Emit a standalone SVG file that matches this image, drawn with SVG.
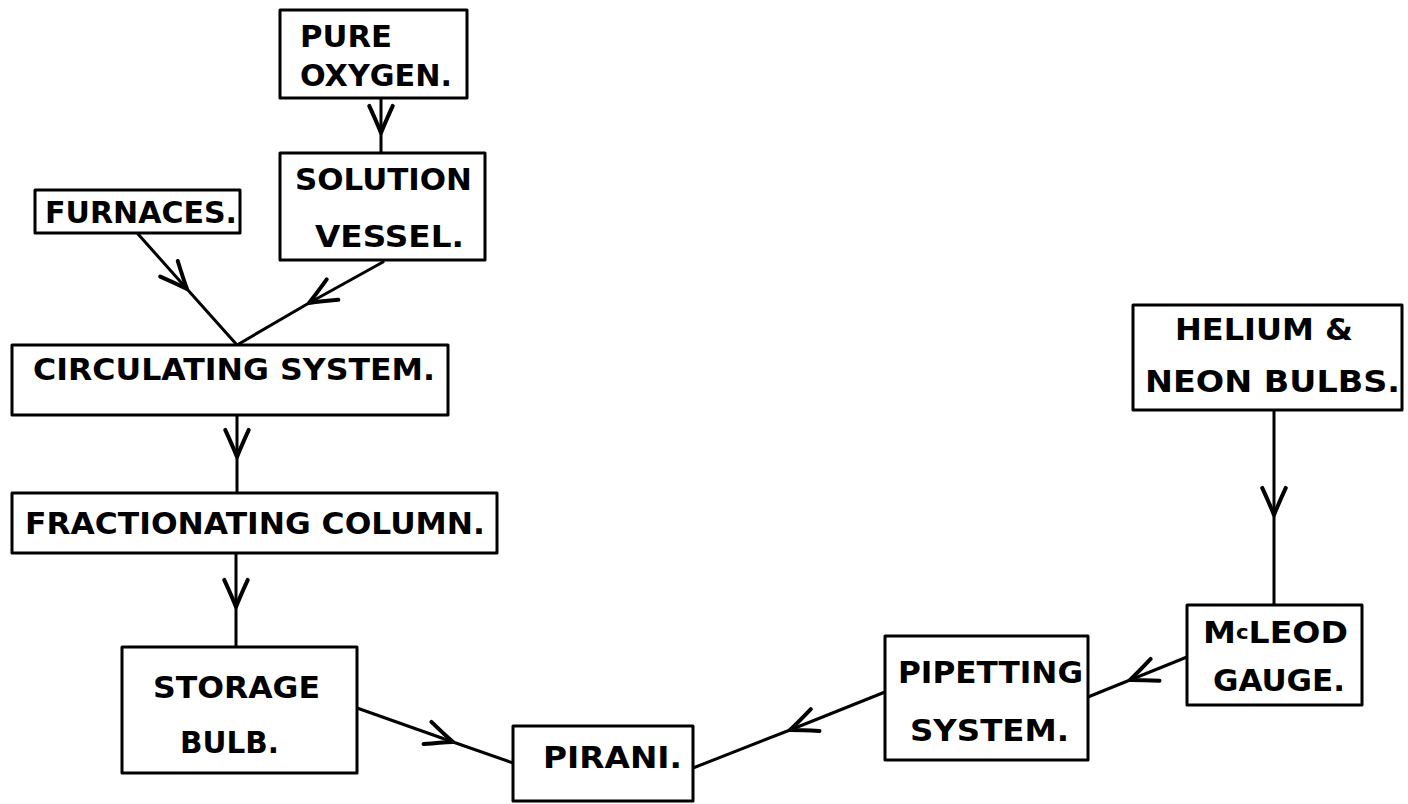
<svg xmlns="http://www.w3.org/2000/svg" width="1408" height="804" viewBox="0 0 1408 804">
<style>
  .box { fill: #fff; stroke: #000; stroke-width: 3; stroke-linejoin: round; }
  .lbl { font-family: "DejaVu Sans", "Liberation Sans", sans-serif; font-weight: bold; font-size: 31px; fill: #000; }
  .con { fill: none; stroke: #000; stroke-width: 3; stroke-linecap: round; stroke-linejoin: round; marker-mid: url(#chev); }
</style>
<defs>
  <marker id="chev" markerUnits="userSpaceOnUse" markerWidth="40" markerHeight="40" viewBox="-30 -15 34 30" refX="0" refY="0" orient="auto" overflow="visible">
    <path d="M -23 -10 Q -10 -4 0 0 Q -10 4 -23 10" fill="none" stroke="#000" stroke-width="3.4" stroke-linecap="round" stroke-linejoin="round"/>
  </marker>
</defs>
<rect width="1408" height="804" fill="#fff"/>

<g id="connectors">
  <path class="con" d="M 381 98 L 381 133 L 381 153"/>
  <path class="con" d="M 138 234 L 187 289 L 237 345"/>
  <path class="con" d="M 383 262 L 309 303 L 237 345"/>
  <path class="con" d="M 237 415 L 237 457 L 237 493"/>
  <path class="con" d="M 236 553 L 236 607 L 236 647"/>
  <path class="con" d="M 357 708 L 453 742 L 513 763"/>
  <path class="con" d="M 885 692 L 790 730 L 693 768"/>
  <path class="con" d="M 1187 657 L 1130 680 L 1088 697"/>
  <path class="con" d="M 1274 410 L 1274 515 L 1274 605"/>
</g>

<g id="pure-oxygen">
  <rect class="box" x="280" y="10" width="187" height="88"/>
  <text class="lbl" x="300" y="47" textLength="92" lengthAdjust="spacingAndGlyphs">PURE</text>
  <text class="lbl" x="300" y="86" textLength="152" lengthAdjust="spacingAndGlyphs">OXYGEN.</text>
</g>
<g id="solution-vessel">
  <rect class="box" x="280" y="153" width="205" height="107"/>
  <text class="lbl" x="295" y="190" textLength="177" lengthAdjust="spacingAndGlyphs">SOLUTION</text>
  <text class="lbl" x="315" y="247" textLength="149" lengthAdjust="spacingAndGlyphs">VESSEL.</text>
</g>
<g id="furnaces">
  <rect class="box" x="35" y="190" width="205" height="43"/>
  <text class="lbl" x="45" y="223" textLength="192" lengthAdjust="spacingAndGlyphs">FURNACES.</text>
</g>
<g id="circulating-system">
  <rect class="box" x="12" y="345" width="436" height="70"/>
  <text class="lbl" x="33" y="380" textLength="402" lengthAdjust="spacingAndGlyphs">CIRCULATING SYSTEM.</text>
</g>
<g id="fractionating-column">
  <rect class="box" x="12" y="493" width="485" height="60"/>
  <text class="lbl" x="25" y="534" textLength="460" lengthAdjust="spacingAndGlyphs">FRACTIONATING COLUMN.</text>
</g>
<g id="storage-bulb">
  <rect class="box" x="122" y="647" width="235" height="126"/>
  <text class="lbl" x="153" y="698" textLength="167" lengthAdjust="spacingAndGlyphs">STORAGE</text>
  <text class="lbl" x="180" y="753" textLength="99" lengthAdjust="spacingAndGlyphs">BULB.</text>
</g>
<g id="pirani">
  <rect class="box" x="513" y="726" width="180" height="75"/>
  <text class="lbl" x="543" y="768" textLength="139" lengthAdjust="spacingAndGlyphs">PIRANI.</text>
</g>
<g id="pipetting-system">
  <rect class="box" x="885" y="636" width="203" height="124"/>
  <text class="lbl" x="898" y="683" textLength="185" lengthAdjust="spacingAndGlyphs">PIPETTING</text>
  <text class="lbl" x="910" y="741" textLength="159" lengthAdjust="spacingAndGlyphs">SYSTEM.</text>
</g>
<g id="mcleod-gauge">
  <rect class="box" x="1187" y="605" width="175" height="100"/>
  <text class="lbl" x="1203" y="643" textLength="145" lengthAdjust="spacingAndGlyphs">M<tspan font-size="20" dy="-4">c</tspan><tspan dy="4">LEOD</tspan></text>
  <text class="lbl" x="1213" y="691" textLength="132" lengthAdjust="spacingAndGlyphs">GAUGE.</text>
</g>
<g id="helium-neon-bulbs">
  <rect class="box" x="1133" y="305" width="269" height="105"/>
  <text class="lbl" x="1175" y="340" textLength="178" lengthAdjust="spacingAndGlyphs">HELIUM &amp;</text>
  <text class="lbl" x="1145" y="392" textLength="255" lengthAdjust="spacingAndGlyphs">NEON BULBS.</text>
</g>
</svg>
